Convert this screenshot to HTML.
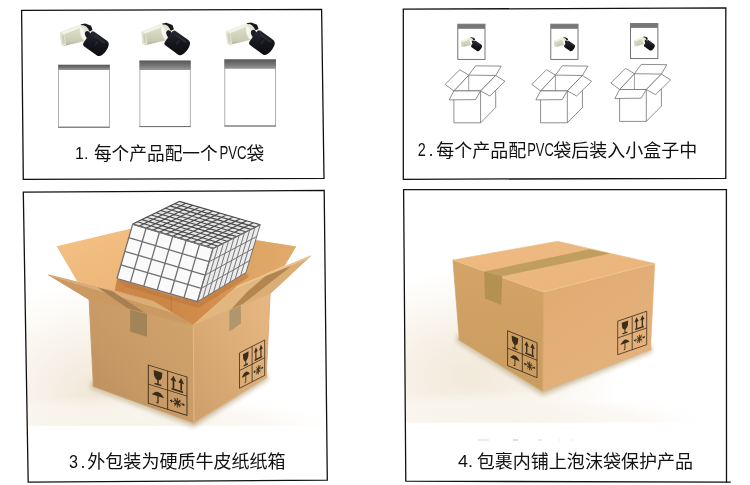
<!DOCTYPE html>
<html lang="zh-CN">
<head>
<meta charset="utf-8">
<title>包装流程</title>
<style>
html,body{margin:0;padding:0;background:#fff;}
body{width:750px;height:485px;overflow:hidden;position:relative;}
svg{position:absolute;left:0;top:0;display:block;}
text{font-family:"Liberation Sans","Noto Sans CJK SC",sans-serif;fill:#111;}
</style>
</head>
<body>
<svg width="750" height="485" viewBox="0 0 750 485">
<defs>

<linearGradient id="gCream" x1="0" y1="0" x2="0" y2="1">
<stop offset="0" stop-color="#e0e1cd"/><stop offset="0.4" stop-color="#d6d7bf"/><stop offset="0.8" stop-color="#c9cab1"/><stop offset="1" stop-color="#a9aa92"/>
</linearGradient>
<linearGradient id="gBlk" x1="0" y1="0" x2="1" y2="1">
<stop offset="0" stop-color="#2b2b36"/><stop offset="0.5" stop-color="#15151c"/><stop offset="1" stop-color="#0b0b10"/>
</linearGradient>
<g id="sensor">
<polygon points="80.44,24.45 85.08,23.52 91.11,25.84 92.59,30.01 89.25,31.68 84.15,27.23" fill="#17171d"/>
<polygon points="60.31,32.33 78.58,25.10 84.80,27.05 85.17,40.96 63.74,45.97 61.05,44.11" fill="url(#gCream)"/>
<polygon points="60.31,32.33 78.58,25.10 83.50,26.68 64.39,34.28" fill="#f2f2e6"/>
<polygon points="60.31,32.33 64.39,34.28 66.24,45.41 63.74,45.97 61.05,44.11" fill="#e2e3d0"/>
<polygon points="61.61,34.84 63.65,35.58 64.76,43.37 62.91,43.56" fill="#cbccb4"/>
<ellipse cx="85.08" cy="33.91" rx="5" ry="9" transform="rotate(-18 85.08 33.91)" fill="#e3e3d0"/>
<ellipse cx="82.94" cy="33.73" rx="2.2" ry="6.8" transform="rotate(-18 82.94 33.73)" fill="#f7f7ee"/>
<ellipse cx="88.14" cy="35.12" rx="2.8" ry="4.3" transform="rotate(-25 88.14 35.12)" fill="#1c1c24"/>
<g transform="translate(96.2,43.9) rotate(35.7)">
<path d="M-11,-5.8 Q-11,-8.8 -8.2,-8.8 L7.4,-8.8 Q12,-8.4 12,0 Q12,8.4 7.4,9 L-8.2,9 Q-11,9 -11,5.8 Z" fill="url(#gBlk)"/>
<rect x="-6" y="-6.6" width="13" height="1.8" rx="0.9" fill="#34343f" opacity="0.7"/>
<rect x="-1" y="-3.2" width="1.6" height="5" fill="#2c2c36" opacity="0.8"/>
</g>
</g>
<linearGradient id="gBagTop" x1="0" y1="0" x2="0" y2="1">
<stop offset="0" stop-color="#565656"/><stop offset="0.6" stop-color="#7a7a7a"/><stop offset="1" stop-color="#9a9a9a"/>
</linearGradient>


<g id="marks" fill="none" stroke="#2a2015" stroke-width="0.95">
<rect x="0" y="0" width="40" height="40"/>
<line x1="20" y1="0" x2="20" y2="40"/><line x1="0" y1="20" x2="40" y2="20"/>
<path d="M5.5,3.5 L14.5,3.5 L14,9 Q13,12.5 10,12.8 Q7,12.5 6,9 Z" fill="#2a2015" stroke="none"/>
<path d="M10,12 L10,17 M6.5,17.2 L13.5,17.2" stroke-width="1.5"/>
<path d="M26,16 L26,7 M34,16 L34,7 M24,17.2 L36,17.2" stroke-width="1.8"/>
<path d="M23,8.5 L26,3 L29,8.5 Z M31,8.5 L34,3 L37,8.5 Z" fill="#2a2015" stroke="none"/>
<path d="M3.5,29.5 Q10,20.5 16.5,29.5 Z" fill="#2a2015" stroke="none"/>
<path d="M10,29 L10,35.5 Q10,37 8.3,36.6" stroke-width="1.3"/>
<path d="M23,30 L27,30 M33,30 L37,30 M27,26 L33,34 M33,26 L27,34 M30,25 L30,35 M26.5,28 L33.5,32 M26.5,32 L33.5,28" stroke-width="1"/>
<path d="M22,30 L24.5,28.3 L24.5,31.7 Z M38,30 L35.5,28.3 L35.5,31.7 Z" fill="#2a2015" stroke="none"/>
</g>


<radialGradient id="p3bg" gradientUnits="userSpaceOnUse" cx="95" cy="395" r="135" gradientTransform="translate(95 395) scale(1 0.85) translate(-95 -395)">
<stop offset="0" stop-color="#efe6d6"/><stop offset="0.2" stop-color="#f3ecdf"/><stop offset="0.45" stop-color="#f7f2e9"/><stop offset="0.75" stop-color="#fcfaf6"/><stop offset="1" stop-color="#ffffff"/>
</radialGradient>
<radialGradient id="p3bgv" gradientUnits="userSpaceOnUse" cx="150" cy="426" r="200" gradientTransform="translate(150 426) scale(1 0.16) translate(-150 -426)">
<stop offset="0" stop-color="#f8f3ea" stop-opacity="0.95"/><stop offset="0.6" stop-color="#faf6ef" stop-opacity="0.7"/><stop offset="1" stop-color="#ffffff" stop-opacity="0"/>
</radialGradient>
<radialGradient id="p4bgv" gradientUnits="userSpaceOnUse" cx="520" cy="422.5" r="200" gradientTransform="translate(520 422.5) scale(1 0.16) translate(-520 -422.5)">
<stop offset="0" stop-color="#f8f3ea" stop-opacity="0.95"/><stop offset="0.6" stop-color="#faf6ef" stop-opacity="0.7"/><stop offset="1" stop-color="#ffffff" stop-opacity="0"/>
</radialGradient>
<filter id="blur2" x="-20%" y="-20%" width="140%" height="140%"><feGaussianBlur stdDeviation="2.2"/></filter>
<linearGradient id="p3L" x1="1" y1="0" x2="0" y2="1">
<stop offset="0" stop-color="#d2a56e"/><stop offset="0.5" stop-color="#c99c67"/><stop offset="1" stop-color="#b98c5b"/>
</linearGradient>
<linearGradient id="p3R" x1="1" y1="0" x2="0" y2="1">
<stop offset="0" stop-color="#e7b882"/><stop offset="0.5" stop-color="#dcac77"/><stop offset="1" stop-color="#cd9e69"/>
</linearGradient>
<linearGradient id="p3BL" x1="0" y1="0" x2="1" y2="1">
<stop offset="0" stop-color="#f4c186"/><stop offset="0.5" stop-color="#edb577"/><stop offset="1" stop-color="#e3a562"/>
</linearGradient>
<linearGradient id="p3IR" gradientUnits="userSpaceOnUse" x1="172" y1="315" x2="250" y2="275">
<stop offset="0" stop-color="#cd8747"/><stop offset="0.5" stop-color="#d48f4f"/><stop offset="1" stop-color="#df9f60"/>
</linearGradient>
<linearGradient id="p3BR" x1="0" y1="0" x2="1" y2="0">
<stop offset="0" stop-color="#dda262"/><stop offset="1" stop-color="#e1ab6b"/>
</linearGradient>

<clipPath id="clip3"><polygon points="23.3,192.2 324.2,190.4 327.3,480.2 28.2,482.2"/></clipPath>

<radialGradient id="p4bg" gradientUnits="userSpaceOnUse" cx="470" cy="375" r="150" gradientTransform="translate(470 375) scale(1 0.7) translate(-470 -375)">
<stop offset="0" stop-color="#f1e9da"/><stop offset="0.4" stop-color="#f6f0e6"/><stop offset="0.75" stop-color="#fcfaf6"/><stop offset="1" stop-color="#ffffff"/>
</radialGradient>
<linearGradient id="p4T" x1="0" y1="0" x2="1" y2="1">
<stop offset="0" stop-color="#efbb83"/><stop offset="1" stop-color="#e9b47c"/>
</linearGradient>
<linearGradient id="p4L" x1="0" y1="0" x2="0" y2="1">
<stop offset="0" stop-color="#d4a467"/><stop offset="1" stop-color="#cb9c5f"/>
</linearGradient>
<linearGradient id="p4R" x1="0" y1="0" x2="0.6" y2="1">
<stop offset="0" stop-color="#e0aa72"/><stop offset="1" stop-color="#e5b27c"/>
</linearGradient>

<clipPath id="clip4"><polygon points="403.6,189.6 726.4,189.6 726.5,482.1 405.8,481.2"/></clipPath>
</defs>

<g id="panel1">
<rect x="58.6" y="65.2" width="50.8" height="62.0" fill="#fff" stroke="#9c9c9c" stroke-width="0.8"/>
<rect x="58.2" y="64.8" width="51.6" height="5.2" fill="url(#gBagTop)"/>
<line x1="58.2" y1="127.2" x2="109.80000000000001" y2="127.2" stroke="#6a6a6a" stroke-width="1"/>
<rect x="139.9" y="61" width="50.4" height="65.6" fill="#fff" stroke="#9c9c9c" stroke-width="0.8"/>
<rect x="139.5" y="60.6" width="51.2" height="9.4" fill="url(#gBagTop)"/>
<line x1="139.5" y1="126.6" x2="190.70000000000002" y2="126.6" stroke="#6a6a6a" stroke-width="1"/>
<rect x="224.8" y="59.8" width="50.8" height="66.2" fill="#fff" stroke="#9c9c9c" stroke-width="0.8"/>
<rect x="224.4" y="59.4" width="51.6" height="9.4" fill="url(#gBagTop)"/>
<line x1="224.4" y1="126" x2="276.0" y2="126" stroke="#6a6a6a" stroke-width="1"/>
<use href="#sensor"/>
<use href="#sensor" transform="translate(81.3,-0.8)"/>
<use href="#sensor" transform="translate(166,-1.1)"/>
</g>
<g id="panel2">
<rect x="457.8" y="24.2" width="27.2" height="35.2" fill="#fff" stroke="#666" stroke-width="0.9"/>
<rect x="457.8" y="24.2" width="27.2" height="4.6" fill="#777"/>
<use href="#sensor" transform="translate(435.3,27.2) scale(0.43)"/>
<rect x="550.8" y="24.2" width="27.2" height="35.2" fill="#fff" stroke="#666" stroke-width="0.9"/>
<rect x="550.8" y="24.2" width="27.2" height="4.6" fill="#777"/>
<use href="#sensor" transform="translate(528.3,27.2) scale(0.43)"/>
<rect x="630.5" y="23.6" width="27.4" height="35.0" fill="#fff" stroke="#666" stroke-width="0.9"/>
<rect x="630.5" y="23.6" width="27.4" height="4.3" fill="#777"/>
<use href="#sensor" transform="translate(608.1,26.5) scale(0.43)"/>
<polyline points="468.7,75.1 475.5,65.8 501.2,66.1 495.7,75.5" fill="none" stroke="#6a6a6a" stroke-width="0.75" stroke-linejoin="round"/>
<polygon points="453.9,90.9 480.6,90.9 495.7,75.5 468.7,75.1" fill="none" stroke="#6a6a6a" stroke-width="0.75" stroke-linejoin="round"/>
<line x1="468.7" y1="75.1" x2="468.7" y2="90.9" stroke="#777" stroke-width="0.7"/>
<polyline points="453.9,90.9 453.9,122.8 480.6,122.8 480.6,90.9" fill="none" stroke="#6a6a6a" stroke-width="0.75" stroke-linejoin="round"/>
<polyline points="480.6,122.8 495.7,107.6 495.7,75.5" fill="none" stroke="#6a6a6a" stroke-width="0.75" stroke-linejoin="round"/>
<polygon points="453.9,90.9 445.1,84.4 459.8,69.7 468.7,75.1" fill="#fff" stroke="#6a6a6a" stroke-width="0.75" stroke-linejoin="round"/>
<polygon points="480.6,90.9 489.9,96.0 504.9,81.3 495.7,75.5" fill="#fff" stroke="#6a6a6a" stroke-width="0.75" stroke-linejoin="round"/>
<polygon points="453.9,90.9 449.2,99.9 475.5,99.6 480.6,90.9" fill="#fff" stroke="#6a6a6a" stroke-width="0.75" stroke-linejoin="round"/>
<polyline points="555.4,75.1 562.2,65.8 587.9,66.1 582.4,75.5" fill="none" stroke="#6a6a6a" stroke-width="0.75" stroke-linejoin="round"/>
<polygon points="540.6,90.9 567.3,90.9 582.4,75.5 555.4,75.1" fill="none" stroke="#6a6a6a" stroke-width="0.75" stroke-linejoin="round"/>
<line x1="555.4" y1="75.1" x2="555.4" y2="90.9" stroke="#777" stroke-width="0.7"/>
<polyline points="540.6,90.9 540.6,122.8 567.3,122.8 567.3,90.9" fill="none" stroke="#6a6a6a" stroke-width="0.75" stroke-linejoin="round"/>
<polyline points="567.3,122.8 582.4,107.6 582.4,75.5" fill="none" stroke="#6a6a6a" stroke-width="0.75" stroke-linejoin="round"/>
<polygon points="540.6,90.9 531.8,84.4 546.5,69.7 555.4,75.1" fill="#fff" stroke="#6a6a6a" stroke-width="0.75" stroke-linejoin="round"/>
<polygon points="567.3,90.9 576.6,96.0 591.6,81.3 582.4,75.5" fill="#fff" stroke="#6a6a6a" stroke-width="0.75" stroke-linejoin="round"/>
<polygon points="540.6,90.9 535.9,99.9 562.2,99.6 567.3,90.9" fill="#fff" stroke="#6a6a6a" stroke-width="0.75" stroke-linejoin="round"/>
<polyline points="634.4,73.7 641.2,64.4 666.9,64.7 661.4,74.1" fill="none" stroke="#6a6a6a" stroke-width="0.75" stroke-linejoin="round"/>
<polygon points="619.6,89.5 646.3,89.5 661.4,74.1 634.4,73.7" fill="none" stroke="#6a6a6a" stroke-width="0.75" stroke-linejoin="round"/>
<line x1="634.4" y1="73.7" x2="634.4" y2="89.5" stroke="#777" stroke-width="0.7"/>
<polyline points="619.6,89.5 619.6,121.4 646.3,121.4 646.3,89.5" fill="none" stroke="#6a6a6a" stroke-width="0.75" stroke-linejoin="round"/>
<polyline points="646.3,121.4 661.4,106.2 661.4,74.1" fill="none" stroke="#6a6a6a" stroke-width="0.75" stroke-linejoin="round"/>
<polygon points="619.6,89.5 610.8,83.0 625.5,68.3 634.4,73.7" fill="#fff" stroke="#6a6a6a" stroke-width="0.75" stroke-linejoin="round"/>
<polygon points="646.3,89.5 655.6,94.6 670.6,79.9 661.4,74.1" fill="#fff" stroke="#6a6a6a" stroke-width="0.75" stroke-linejoin="round"/>
<polygon points="619.6,89.5 614.9,98.5 641.2,98.2 646.3,89.5" fill="#fff" stroke="#6a6a6a" stroke-width="0.75" stroke-linejoin="round"/>
</g>
<g id="panel3">
<g clip-path="url(#clip3)">
<rect x="20" y="255" width="310" height="170.8" fill="url(#p3bg)"/>
<rect x="20" y="393" width="310" height="32.8" fill="url(#p3bgv)"/>
</g>
<polygon points="91.9,385.9 194.0,424.4 267.8,377.8 266.3,373.0 194.0,418.6 93.4,382.4" fill="#bfa98a" opacity="0.5"/>
<polygon points="91.4,380.4 90.4,388.4 194.0,427.6 268.3,380.0 266.3,371.0 194.0,414.6" fill="#c9b796" opacity="0.75" filter="url(#blur2)"/>
<polygon points="56.6,246.3 133.5,228.0 180.0,236.0 258.0,240.5 296.1,246.6 284.8,265.6 237.1,286.3 193.3,325.1 153.0,301.0 77.3,281.6" fill="url(#p3BL)"/>
<polygon points="240.0,238.0 258.0,240.5 296.1,246.6 284.8,265.6 237.1,286.3 228.0,292.0 240.0,270.0" fill="url(#p3BR)"/>
<polygon points="117.0,279.0 171.6,296.0 171.6,312.2 153.0,301.0 114.7,290.6" fill="#cc8646"/>
<polygon points="171.6,296.0 197.4,301.7 246.0,272.5 252.0,274.0 237.1,286.3 193.3,325.1 171.6,312.2" fill="url(#p3IR)"/>
<polygon points="117.0,279.0 197.4,301.7 246.0,272.5 249.0,277.0 198.0,308.0 125.0,286.5" fill="#b9763c" opacity="0.55"/>
<line x1="171.4" y1="296" x2="171.4" y2="312" stroke="#b87438" stroke-width="0.8"/>
<polygon points="132.7,224.1 179.2,201.4 260.2,224.7 213.0,248.4" fill="#e6e6e6"/>
<polygon points="132.7,224.1 213.0,248.4 197.4,301.7 117.0,278.5" fill="#fafafa"/>
<polygon points="213.0,248.4 260.2,224.7 246.0,272.5 197.4,301.7" fill="#ececec"/>
<path d="M132.7,224.1L213.0,248.4M137.3,221.8L217.7,246.0M142.0,219.6L222.4,243.7M146.6,217.3L227.2,241.3M151.3,215.0L231.9,238.9M155.9,212.8L236.6,236.6M160.6,210.5L241.3,234.2M165.2,208.2L246.0,231.8M169.9,205.9L250.8,229.4M174.5,203.7L255.5,227.1M179.2,201.4L260.2,224.7M132.7,224.1L179.2,201.4M139.4,226.1L185.9,203.3M146.1,228.2L192.7,205.3M152.8,230.2L199.4,207.2M159.5,232.2L206.2,209.2M166.2,234.2L212.9,211.1M172.8,236.2L219.7,213.1M179.5,238.3L226.4,215.0M186.2,240.3L233.2,216.9M192.9,242.3L239.9,218.9M199.6,244.3L246.7,220.8M206.3,246.4L253.4,222.8M213.0,248.4L260.2,224.7" fill="none" stroke="#4a4a4a" stroke-width="1.15"/>
<path d="M132.7,224.1L117.0,278.5M146.1,228.2L130.4,282.4M159.5,232.2L143.8,286.2M172.8,236.2L157.2,290.1M186.2,240.3L170.6,294.0M199.6,244.3L184.0,297.8M213.0,248.4L197.4,301.7M132.7,224.1L213.0,248.4M128.8,237.7L209.1,261.7M124.8,251.3L205.2,275.1M120.9,264.9L201.3,288.4M117.0,278.5L197.4,301.7" fill="none" stroke="#707070" stroke-width="1.3"/>
<path d="M213.0,248.4L197.4,301.7M218.2,245.8L202.8,298.5M223.5,243.1L208.2,295.2M228.7,240.5L213.6,292.0M234.0,237.9L219.0,288.7M239.2,235.2L224.4,285.5M244.5,232.6L229.8,282.2M249.7,230.0L235.2,279.0M255.0,227.3L240.6,275.7M260.2,224.7L246.0,272.5M213.0,248.4L260.2,224.7M209.1,261.7L256.6,236.6M205.2,275.1L253.1,248.6M201.3,288.4L249.6,260.6M197.4,301.7L246.0,272.5" fill="none" stroke="#707070" stroke-width="0.95"/>
<polygon points="48.5,274.9 153.0,301.0 193.3,325.1 89.1,299.5" fill="#cb9a63" stroke="#cb9a63" stroke-width="0.9" stroke-linejoin="round"/>
<polygon points="48.5,274.9 153.0,301.0 193.3,325.1 173.2,313.1 51.3,276.6" fill="#ddad76"/>
<polygon points="97.8,287.6 112.4,291.2 146.9,313.9 129.8,309.7" fill="#a67f52"/>
<polygon points="193.3,325.1 237.1,286.3 310.6,255.9 270.1,293.7" fill="#e2b77f" stroke="#e2b77f" stroke-width="0.9" stroke-linejoin="round"/>
<polygon points="243.5,303.2 287.8,268.0 310.6,255.9 270.1,293.7" fill="#dbae75"/>
<polygon points="229.0,311.4 247.0,292.0 266.1,275.4 292.0,265.5 243.5,303.4" fill="#b3854f"/>
<polygon points="237.1,286.3 310.6,255.9 308.2,258.2 233.6,289.4" fill="#ecc590"/>
<polygon points="89.1,299.5 193.3,325.1 194.0,422.6 93.4,386.4" fill="url(#p3L)" stroke="#c79a65" stroke-width="0.9" stroke-linejoin="round"/>
<polygon points="193.3,325.1 270.1,293.7 266.3,377.0 194.0,422.6" fill="url(#p3R)" stroke="#dbab76" stroke-width="0.9" stroke-linejoin="round"/>
<line x1="193.3" y1="325.1" x2="194" y2="422.6" stroke="#e8c48e" stroke-width="0.8" opacity="0.7"/>
<polygon points="130.1,309.7 147.0,313.9 147.0,336.8 130.1,331.4" fill="#a38456"/>
<polygon points="229.3,310.6 240.9,305.8 240.9,323.4 229.3,331.4" fill="#b0966e"/>
<use href="#marks" transform="matrix(0.9675,0.3000,0.0000,0.9575,148.3,365.0)" opacity="0.9"/>
<use href="#marks" transform="matrix(0.6300,-0.3225,0.0000,0.8850,239.5,352.9)" opacity="0.9"/>
</g>
<g id="panel4">
<g clip-path="url(#clip4)">
<rect x="400" y="250" width="330" height="172.5" fill="url(#p4bg)"/>
<rect x="400" y="390" width="330" height="32.5" fill="url(#p4bgv)"/>
</g>
<polygon points="458.1,340.0 542.6,393.0 652.0,350.0 650.5,345.2 542.6,387.0 459.3,336.0" fill="#c2ad8c" opacity="0.5"/>
<polygon points="457.3,334.0 456.3,342.0 542.6,396.0 652.5,352.2 650.5,343.2 542.6,383.0" fill="#c9b796" opacity="0.75" filter="url(#blur2)"/>
<polygon points="452.9,260.0 557.6,241.3 654.7,263.5 543.2,292.0" fill="url(#p4T)" stroke="#ecb87f" stroke-width="0.6"/>
<polygon points="452.9,260.0 543.2,292.0 542.6,391.0 459.3,340.0" fill="url(#p4L)" stroke="#cfa063" stroke-width="0.6"/>
<polygon points="543.2,292.0 654.7,263.5 650.5,349.2 542.6,391.0" fill="url(#p4R)" stroke="#e2ad76" stroke-width="0.6"/>
<polyline points="452.9,260.0 543.2,292.0 654.7,263.5" fill="none" stroke="#efcf9c" stroke-width="0.9" opacity="0.8"/>
<line x1="543.2" y1="292" x2="542.6" y2="391" stroke="#c9975a" stroke-width="0.8" opacity="0.6"/>
<polygon points="484.2,271.6 502.2,276.3 610.2,253.6 589.6,249.3" fill="#bf9e60"/>
<polygon points="484.2,271.6 502.2,276.3 501.3,305.0 485.0,298.4" fill="#b39150"/>
<use href="#marks" transform="matrix(0.7350,0.3025,0.0000,0.8725,507.6,330.7)" opacity="0.9"/>
<use href="#marks" transform="matrix(0.7250,-0.2500,0.0000,0.8375,617.7,321.2)" opacity="0.9"/>
<rect x="478" y="439.5" width="11" height="1" fill="#d9d9d9"/>
<rect x="513" y="439.5" width="5" height="1" fill="#bdbdbd"/>
<rect x="538" y="439.5" width="3.5" height="1" fill="#d4d4d4"/>
<rect x="559" y="439.5" width="1.5" height="1" fill="#dedede"/>
<rect x="571" y="439.5" width="1.5" height="1" fill="#d6d6d6"/>
</g>
<g id="frames">
<polygon points="21.6,10.4 321.6,9.4 324.0,178.4 23.3,179.4" fill="none" stroke="#111" stroke-width="1.3" stroke-linejoin="miter"/>
<polygon points="403.3,9.2 725.8,7.9 725.8,178.3 403.3,179.3" fill="none" stroke="#111" stroke-width="1.3" stroke-linejoin="miter"/>
<polygon points="23.3,192.2 324.2,190.4 327.3,480.2 28.2,482.2" fill="none" stroke="#111" stroke-width="1.3" stroke-linejoin="miter"/>
<polygon points="403.6,189.6 726.4,189.6 726.5,482.1 405.8,481.2" fill="none" stroke="#111" stroke-width="1.3" stroke-linejoin="miter"/>
<line x1="726" y1="482.1" x2="730.8" y2="482.2" stroke="#111" stroke-width="1.3"/>
</g>
<g id="captions" opacity="0.995">
<text y="159.6"><tspan x="75" y="159.3" font-size="16">1.</tspan><tspan x="90" y="159.3" font-size="16"> </tspan><tspan x="93.9" y="159.6" font-size="17.7">每个产品配一个</tspan><tspan x="219.4" y="159.3" font-size="18" textLength="27.2" lengthAdjust="spacingAndGlyphs">PVC</tspan><tspan x="246.5" y="159.6" font-size="17.7">袋</tspan></text>
<text y="156.7"><tspan x="417.8" y="156.3" font-size="18" textLength="8" lengthAdjust="spacingAndGlyphs">2</tspan><tspan x="428.4" y="156.3" font-size="18">.</tspan><tspan x="432" y="156.3" font-size="16"> </tspan><tspan x="436.2" y="156.7" font-size="18">每个产品配</tspan><tspan x="527.2" y="156.3" font-size="18" textLength="26.6" lengthAdjust="spacingAndGlyphs">PVC</tspan><tspan x="553.3" y="156.7" font-size="18">袋后装入小盒子中</tspan></text>
<text y="468.3"><tspan x="69" y="468" font-size="18" textLength="9" lengthAdjust="spacingAndGlyphs">3</tspan><tspan x="80.4" y="468" font-size="18">.</tspan><tspan x="84" y="468" font-size="16"> </tspan><tspan x="87.3" y="468.3" font-size="18.05">外包装为硬质牛皮纸纸箱</tspan></text>
<text y="467.7"><tspan x="458" y="466.8" font-size="16.5" textLength="15" lengthAdjust="spacingAndGlyphs">4.</tspan><tspan x="472" y="466.8" font-size="16"> </tspan><tspan x="476.7" y="467.7" font-size="18.05">包裹内铺上泡沫袋保护产品</tspan></text>
</g>
</svg>
</body>
</html>
